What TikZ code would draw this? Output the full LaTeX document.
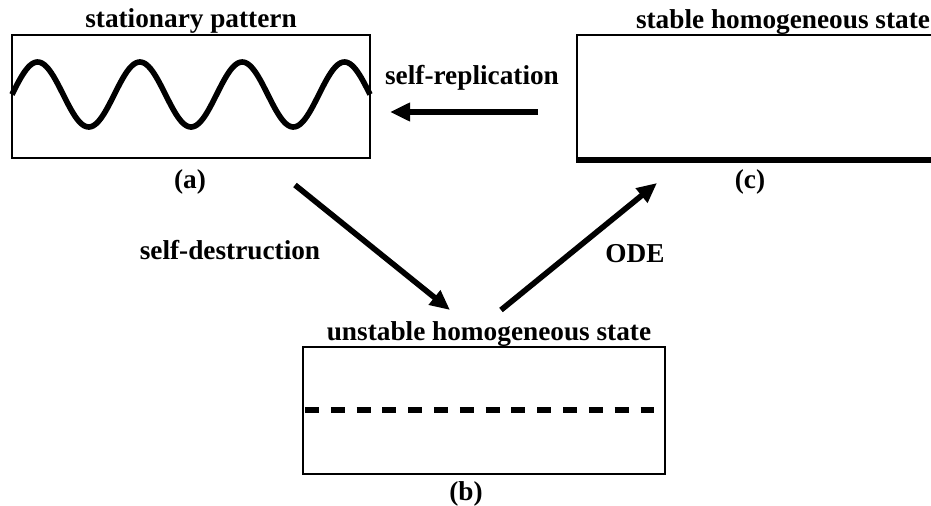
\documentclass[tikz,border=0pt]{standalone}
\usepackage{fontspec}
\setmainfont{Liberation Serif}
\usetikzlibrary{arrows.meta}
\tikzset{
    lbl/.style={font=\fontsize{19.4}{23}\selectfont\bfseries,anchor=base,inner sep=0pt},
    frame/.style={line width=1.4pt},
    arr/.style={-{Triangle[length=0.5cm,width=0.44cm]},line width=4pt},
}
\begin{document}
\begin{tikzpicture}[x=0.025cm,y=-0.025cm]
    \useasboundingbox (0,0) rectangle (931,505);
% Boxes
    % (a) stationary pattern
    \draw[frame] (12,35) rectangle (370,158);
    \draw[line width=4pt,line join=round] plot[domain=12:370,samples=200,smooth]
        (\x,{94.5-32.5*sin(3.519*(\x-12))});
    % (b) unstable homogeneous state
    \draw[frame] (303,347) rectangle (665,474);
    \draw[line width=3.6pt,dash pattern=on 0.35cm off 0.295cm] (305,410) -- (654,410);
    % (c) stable homogeneous state
    \draw[frame] (931,35) -- (577,35) -- (577,160);
    \draw[line width=3.8pt] (576,160) -- (931,160);
% Labels
    \node[lbl] (pat) at (191,28) {stationary pattern};
    \node[lbl] (a) at (190,188) {(a)};
    \node[lbl] (uns) at (489,340) {unstable homogeneous state};
    \node[lbl] (b) at (466,500) {(b)};
    \node[lbl] (sta) at (783,29) {stable homogeneous state};
    \node[lbl] (c) at (750,188) {(c)};
    \node[lbl] (rep) at (472,85) {self-replication};
    \node[lbl] (des) at (230,259) {self-destruction};
    \node[lbl] (ode) at (635,262) {ODE};
% Transitions
    \coordinate (repS) at (538,112);
    \coordinate (repE) at (390,112);
    \coordinate (desS) at (295,185);
    \coordinate (desE) at (450,310);
    \coordinate (odeS) at (501,310);
    \coordinate (odeE) at (657,183);
    \draw[arr] (repS) -- (repE);
    \draw[arr] (desS) -- (desE);
    \draw[arr] (odeS) -- (odeE);
\end{tikzpicture}
\end{document}
